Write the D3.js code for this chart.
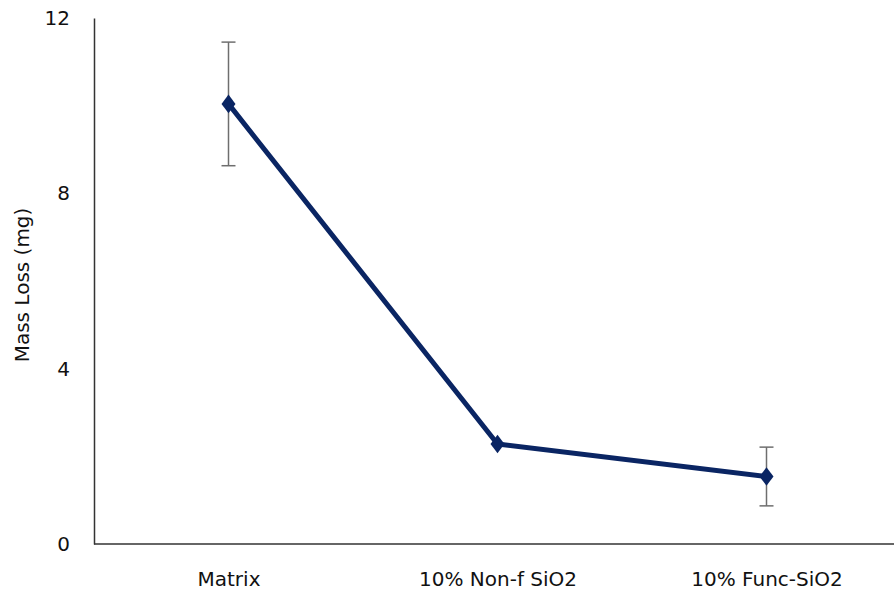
<!DOCTYPE html>
<html>
<head>
<meta charset="utf-8">
<script src="https://cdn.jsdelivr.net/npm/d3@7"></script>
<style>
  html, body { margin: 0; padding: 0; background: #fff; }
  svg { display: block; font-family: "DejaVu Sans", Verdana, sans-serif; }
</style>
</head>
<body>
<svg id="chart" width="894" height="599"></svg>
<script>
const categories = ["Matrix", "10% Non-f SiO2", "10% Func-SiO2"];
const values = [10.04, 2.28, 1.54];
const errors = [1.41, 0, 0.67];
const yTicks = [0, 4, 8, 12];
const yTitle = "Mass Loss (mg)";

const svg = d3.select("#chart");

const x = d3.scalePoint().domain(categories).range([94, 901]).padding(0.5);
const y = d3.scaleLinear().domain([0, 12]).range([544, 18]);

// Y axis
const yAxis = svg.append("g").attr("transform", "translate(94,0)")
  .call(d3.axisLeft(y).tickValues(yTicks).tickSize(0).tickPadding(24).tickFormat(d3.format("d")));
yAxis.select(".domain").attr("stroke", "#333").attr("stroke-width", 1.5);
yAxis.selectAll("text").attr("font-size", 20).attr("fill", "#111")
  .attr("font-family", "DejaVu Sans, Verdana, sans-serif");

// X axis
const xAxis = svg.append("g").attr("transform", "translate(0,544)")
  .call(d3.axisBottom(x).tickSize(0).tickPadding(28));
xAxis.select(".domain").attr("d", "M94,0H894").attr("stroke", "#333").attr("stroke-width", 1.5);
xAxis.selectAll("text").attr("font-size", 20).attr("fill", "#111")
  .attr("font-family", "DejaVu Sans, Verdana, sans-serif");

// Y title
svg.append("text")
  .attr("transform", "translate(29,285) rotate(-90)")
  .attr("text-anchor", "middle")
  .attr("font-size", 20)
  .attr("fill", "#111")
  .text(yTitle);

const data = categories.map((c, i) => ({ c, v: values[i], e: errors[i] }));

// Error bars
const eb = svg.append("g").attr("stroke", "#6e6e6e").attr("stroke-width", 1.5).attr("fill", "none");
data.filter(d => d.e > 0).forEach(d => {
  const cx = x(d.c);
  eb.append("line").attr("x1", cx).attr("x2", cx).attr("y1", y(d.v + d.e)).attr("y2", y(d.v - d.e));
  eb.append("line").attr("x1", cx - 7).attr("x2", cx + 7).attr("y1", y(d.v + d.e)).attr("y2", y(d.v + d.e));
  eb.append("line").attr("x1", cx - 7).attr("x2", cx + 7).attr("y1", y(d.v - d.e)).attr("y2", y(d.v - d.e));
});

// Line
const color = "#0a2563";
svg.append("path").datum(data)
  .attr("d", d3.line().x(d => x(d.c)).y(d => y(d.v)))
  .attr("fill", "none").attr("stroke", color).attr("stroke-width", 5)
  .attr("stroke-linejoin", "round");

// Markers
svg.append("g").selectAll("path").data(data).join("path")
  .attr("d", d3.symbol().type(d3.symbolDiamond).size(100))
  .attr("transform", d => `translate(${x(d.c)},${y(d.v)}) scale(1.3,1)`)
  .attr("fill", color);
</script>
</body>
</html>
